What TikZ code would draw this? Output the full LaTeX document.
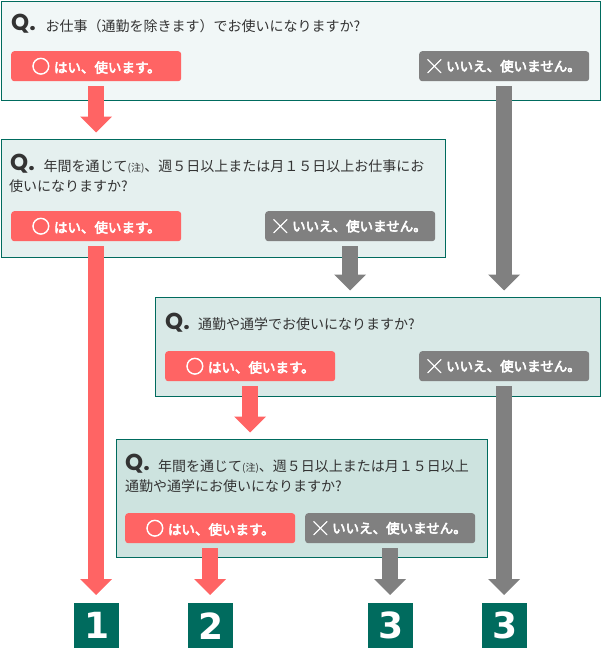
\documentclass[tikz,border=0pt]{standalone}
\usepackage{fontspec}
\usepackage{graphicx}
\newfontfamily\jp{Noto Sans CJK JP}
\newfontfamily\jpb{Noto Sans CJK JP}[FakeBold=4]
\newfontfamily\qfont{Poppins}
\newfontfamily\numfont{DejaVu Sans}
\usetikzlibrary{arrows.meta,calc}
\definecolor{framec}{HTML}{006B5E}
\definecolor{fillA}{HTML}{F1F7F7}
\definecolor{fillB}{HTML}{E5F0EF}
\definecolor{fillC}{HTML}{D9E9E7}
\definecolor{fillD}{HTML}{CDE3DF}
\definecolor{btnred}{HTML}{FF6464}
\definecolor{btngray}{HTML}{808080}
\definecolor{qtext}{HTML}{333333}
\newcommand\yestext{\raisebox{-0.5pt}{\scalebox{1.35}{○}}\hspace{4pt}はい、使います。}
\newcommand\notext{╳\hspace{5pt}いいえ、使いません。}
\newcommand\chu{{\fontsize{10pt}{10pt}\selectfont(注)}}
\begin{document}
\begin{tikzpicture}[x=1pt,y=-1pt,
  qbox/.style={draw=framec,line width=1pt,anchor=north west,inner sep=0pt},
  btn/.style={rounded corners=3pt,anchor=north west,minimum width=170pt,minimum height=30pt,inner sep=0pt,text=white,font=\jpb\fontsize{13.5pt}{14pt}\selectfont},
  yesbtn/.style={btn,fill=btnred},
  nobtn/.style={btn,fill=btngray},
  qmark/.style={anchor=base west,inner sep=0pt,text=qtext,font=\qfont\bfseries\fontsize{23pt}{23pt}\selectfont},
  qtxt/.style={anchor=base west,inner sep=0pt,text=qtext,font=\jp\fontsize{14pt}{21pt}\selectfont},
  numbox/.style={fill=framec,anchor=north west,minimum width=45pt,minimum height=45pt,inner sep=0pt,text=white,font=\numfont\bfseries\fontsize{36pt}{36pt}\selectfont},
  redarr/.style={draw=btnred,line width=16pt,-{Triangle[width=31pt,length=16pt]}},
  grayarr/.style={draw=btngray,line width=16pt,-{Triangle[width=31pt,length=16pt]}},
]
\useasboundingbox (0,0) rectangle (600,648);
% question boxes
\node[qbox,fill=fillA,minimum width=599pt,minimum height=99pt] (box1) at (0.5,0.5) {};
\node[qbox,fill=fillB,minimum width=444pt,minimum height=118pt] (box2) at (0.5,138.5) {};
\node[qbox,fill=fillC,minimum width=445pt,minimum height=99.5pt] (box3) at (154.5,296.5) {};
\node[qbox,fill=fillD,minimum width=371pt,minimum height=118pt] (box4) at (115.5,438.5) {};
% question texts
\node[qmark] (q1) at (11,30) {Q.};
\node[qtxt] (t1) at (45.5,31) {お仕事（通勤を除きます）でお使いになりますか?};
\node[qmark] (q2) at (10,170) {Q.};
\node[qtxt] (t2a) at (43.5,171) {年間を通じて\chu、週５日以上または月１５日以上お仕事にお};
\node[qtxt] (t2b) at (9,191.5) {使いになりますか?};
\node[qmark] (q3) at (165,329) {Q.};
\node[qtxt] (t3) at (198,329.5) {通勤や通学でお使いになりますか?};
\node[qmark] (q4) at (125,470) {Q.};
\node[qtxt] (t4a) at (158,471) {年間を通じて\chu、週５日以上または月１５日以上};
\node[qtxt] (t4b) at (125,491.5) {通勤や通学にお使いになりますか?};
% answer buttons
\node[yesbtn] (r1) at (11,51) {\yestext};
\node[nobtn] (g1) at (419,51) {\notext};
\node[yesbtn] (r2) at (11,211) {\yestext};
\node[nobtn] (g2) at (265,211) {\notext};
\node[yesbtn] (r3) at (165,351) {\yestext};
\node[nobtn] (g3) at (419,351) {\notext};
\node[yesbtn] (r4) at (125,513) {\yestext};
\node[nobtn] (g4) at (305,513) {\notext};
% result boxes
\node[numbox] (n1) at (74,603) {1};
\node[numbox] (n2) at (188,603) {2};
\node[numbox] (n3) at (368,603) {3};
\node[numbox] (n4) at (482,603) {3};
% arrows
\draw[redarr] ([yshift=-5pt]r1.south) -- ([yshift=6pt]r1.south |- box2.north);
\draw[grayarr] ([yshift=-5pt]g1.south) -- ([yshift=6pt]g1.south |- box3.north);
\draw[redarr] ([yshift=-5pt]r2.south) -- ([yshift=8pt]r2.south |- n1.north);
\draw[grayarr] ([yshift=-5pt]g2.south) -- ([yshift=6pt]g2.south |- box3.north);
\draw[redarr] ([yshift=-5pt]r3.south) -- ([yshift=6pt]r3.south |- box4.north);
\draw[grayarr] ([yshift=-5pt]g3.south) -- ([yshift=8pt]g3.south |- n4.north);
\draw[redarr] ([yshift=-5pt]r4.south) -- ([yshift=8pt]r4.south |- n2.north);
\draw[grayarr] ([yshift=-5pt]g4.south) -- ([yshift=8pt]g4.south |- n3.north);
\end{tikzpicture}
\end{document}
